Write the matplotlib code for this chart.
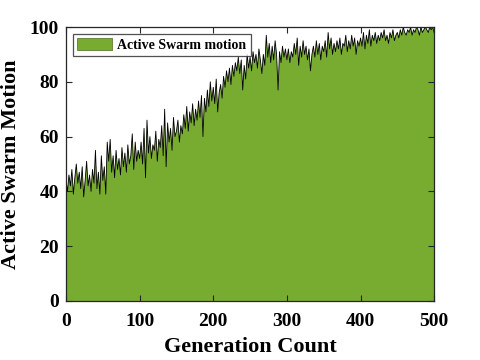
import matplotlib
matplotlib.use("Agg")
import matplotlib.pyplot as plt
import numpy as np

generations = list(range(0, 501, 2))
motion = [
    44, 40, 46, 42, 48, 39, 45, 50, 43, 47, 41, 49, 38, 44, 51, 42, 46, 40, 48, 43, 55, 41, 47, 39, 53,
    44, 49, 39, 58, 51, 59, 47, 53, 45, 55, 48, 52, 46, 56, 49, 54, 47, 57, 50, 53, 61, 48, 58, 51, 55,
    52, 58, 50, 63, 45, 66, 54, 60, 52, 57, 55, 62, 51, 59, 56, 64, 53, 70, 49, 65, 58, 63, 55, 67, 60,
    62, 66, 58, 64, 61, 68, 63, 71, 62, 69, 65, 72, 64, 70, 66, 73, 67, 75, 60, 74, 69, 77, 71, 80, 73,
    78, 72, 81, 69, 76, 79, 74, 82, 78, 84, 80, 85, 79, 86, 82, 87, 84, 89, 83, 88, 77, 86, 81, 90, 85,
    89, 84, 91, 87, 90, 85, 92, 88, 83, 90, 86, 97, 89, 94, 87, 93, 88, 95, 90, 77, 91, 87, 93, 89, 92,
    88, 92, 87, 91, 89, 94, 90, 96, 86, 93, 89, 95, 90, 93, 88, 92, 84, 90, 93, 89, 95, 90, 94, 88, 93,
    91, 95, 89, 98, 92, 96, 90, 94, 91, 95, 92, 96, 90, 94, 93, 97, 91, 95, 92, 97, 93, 96, 90, 95, 93,
    96, 93, 98, 92, 97, 94, 99, 93, 97, 95, 98, 94, 97, 95, 98, 96, 99, 95, 97, 94, 98, 96, 99, 95, 97,
    98, 96, 99, 97, 100, 98, 97, 99, 98, 100, 97, 99, 98, 100, 99, 97, 100, 98, 99, 100, 99, 98, 100, 99, 100, 98,
]

x_ticks = [0, 100, 200, 300, 400, 500]
y_ticks = [0, 20, 40, 60, 80, 100]

plt.rcParams['font.family'] = ['Liberation Serif', 'DejaVu Serif']
plt.rcParams['font.weight'] = 'bold'

fig = plt.figure(figsize=(4.8, 3.6), dpi=100)
ax = fig.add_axes([0.1375, 0.164, 0.767, 0.761])

axis_col = '#262626'
ax.fill_between(generations, motion, 0, facecolor='#77AC30', edgecolor='none',
                label='Active Swarm motion')
ax.plot(generations, motion, color='black', lw=0.6)

ax.set_xlim(0, 500)
ax.set_ylim(0, 100)
ax.set_xticks(x_ticks)
ax.set_yticks(y_ticks)
ax.tick_params(direction='in', top=True, right=True, length=4, width=0.8,
               colors=axis_col, labelsize=14)
ax.tick_params(axis='x', pad=9)
ax.tick_params(axis='y', pad=5)
for lab in ax.get_xticklabels() + ax.get_yticklabels():
    lab.set_fontweight('bold')
    lab.set_color('black')
for s in ax.spines.values():
    s.set_color(axis_col)
    s.set_linewidth(0.9)

ax.set_xlabel('Generation Count', fontsize=16, fontweight='bold', labelpad=5)
ax.set_ylabel('Active Swarm Motion', fontsize=16, fontweight='bold', labelpad=6)

leg = ax.legend(loc='upper left', fontsize=10, frameon=True, fancybox=False,
                handlelength=2.5, handleheight=0.9, borderpad=0.3,
                borderaxespad=0.5, handletextpad=0.4)
leg.get_frame().set_edgecolor(axis_col)
leg.get_frame().set_linewidth(0.9)
for t in leg.get_texts():
    t.set_fontweight('bold')
leg.legend_handles[0].set_edgecolor('#4a6a1e')
leg.legend_handles[0].set_linewidth(0.5)

fig.savefig('out.png', dpi=100)
